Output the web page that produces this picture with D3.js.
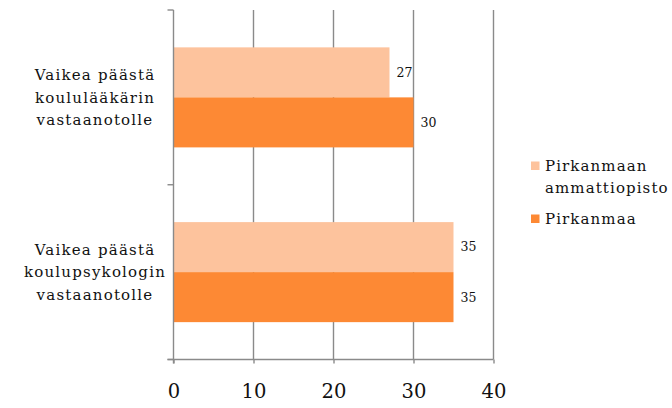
<!DOCTYPE html>
<html><head><meta charset="utf-8">
<script src="https://cdn.jsdelivr.net/npm/d3@7"></script>
<style>body{margin:0;background:#fff}svg{display:block}</style>
</head><body><svg id="c" width="672" height="408" font-family="DejaVu Serif, serif"></svg>
<script>
const categories = [
  ["Vaikea päästä","koululääkärin","vastaanotolle"],
  ["Vaikea päästä","koulupsykologin","vastaanotolle"]
];
const seriesNames = ["Pirkanmaan ammattiopisto", "Pirkanmaa"];
const seriesColors = ["#FDC39D", "#FD8934"];
const ammattiopisto = [27, 35];
const pirkanmaa = [30, 35];
const seriesValues = [ammattiopisto, pirkanmaa];
const xTicks = [0, 10, 20, 30, 40];
const FONT = "DejaVu Serif, serif";

const svg = d3.select("#c");
const L = 173.5, R = 493.5, T = 10, B = 359.5;
const x = d3.scaleLinear().domain([0, 40]).range([L, R]);
const y = d3.scaleBand().domain(d3.range(categories.length)).range([T, B]).padding(0);
const ys = d3.scaleBand().domain(d3.range(seriesNames.length)).range([0, y.bandwidth()]).paddingInner(0).paddingOuter(0.747);

svg.append("g").selectAll("line").data(xTicks.slice(1)).join("line")
  .attr("x1", d => x(d)).attr("x2", d => x(d)).attr("y1", T).attr("y2", B)
  .attr("stroke", "#8a8a8a").attr("stroke-width", 1.4);

categories.forEach((c, ci) => {
  seriesValues.forEach((vals, si) => {
    svg.append("rect")
      .attr("x", x(0)).attr("y", y(ci) + ys(si))
      .attr("width", x(vals[ci]) - x(0)).attr("height", ys.bandwidth())
      .attr("fill", seriesColors[si]);
    svg.append("text").style("font-family", FONT).attr("fill", "#111")
      .attr("x", x(vals[ci]) + 7).attr("y", y(ci) + ys(si) + ys.bandwidth() / 2)
      .attr("dy", "0.35em").attr("font-size", 12.5).text(vals[ci]);
  });
});

const yAxisG = svg.append("g");
yAxisG.append("line").attr("x1", L).attr("x2", L).attr("y1", T).attr("y2", B + 4)
  .attr("stroke", "#8a8a8a").attr("stroke-width", 1.4);
[T, y(1), B].forEach(v => yAxisG.append("line").attr("x1", L - 6).attr("x2", L).attr("y1", v).attr("y2", v)
  .attr("stroke", "#8a8a8a").attr("stroke-width", 1.4));

const xAxis = d3.axisBottom(x).tickValues(xTicks).tickSize(4).tickSizeOuter(0);
const xg = svg.append("g").attr("transform", `translate(0,${B})`).call(xAxis);
xg.attr("font-family", FONT);
xg.select(".domain").attr("stroke", "#8a8a8a").attr("stroke-width", 1.4).attr("d", `M${L - 6},0H${R}`);
xg.selectAll(".tick line").attr("stroke", "#8a8a8a").attr("stroke-width", 1.4);
xg.selectAll(".tick text").style("font-family", FONT).attr("font-size", 19.5).attr("fill", "#111").attr("y", 0).attr("dy", "1.95em");

categories.forEach((lines, ci) => {
  const cy = y(ci) + y.bandwidth() / 2;
  const t = svg.append("text").style("font-family", FONT).attr("fill", "#111").attr("text-anchor", "middle").attr("font-size", 15).attr("letter-spacing", 1.2);
  lines.forEach((ln, i) => t.append("tspan").attr("x", 95).attr("y", cy + (i - 1) * 22.5).attr("dy", "0.35em").text(ln));
});

const lg = svg.append("g");
const legendRows = [[seriesNames[0].split(" ")[0], seriesNames[0].split(" ")[1]], [seriesNames[1]]];
const legendY = [166, 219];
legendRows.forEach((rows, i) => {
  lg.append("rect").attr("x", 531).attr("y", legendY[i] - 4.5).attr("width", 8.5).attr("height", 8.5).attr("fill", seriesColors[i]);
  rows.forEach((r, j) => lg.append("text").style("font-family", FONT).attr("fill", "#111").attr("x", 545).attr("y", legendY[i] + j * 22).attr("dy", "0.35em").attr("font-size", 15).attr("letter-spacing", 1.1).text(r));
});
</script></body></html>
